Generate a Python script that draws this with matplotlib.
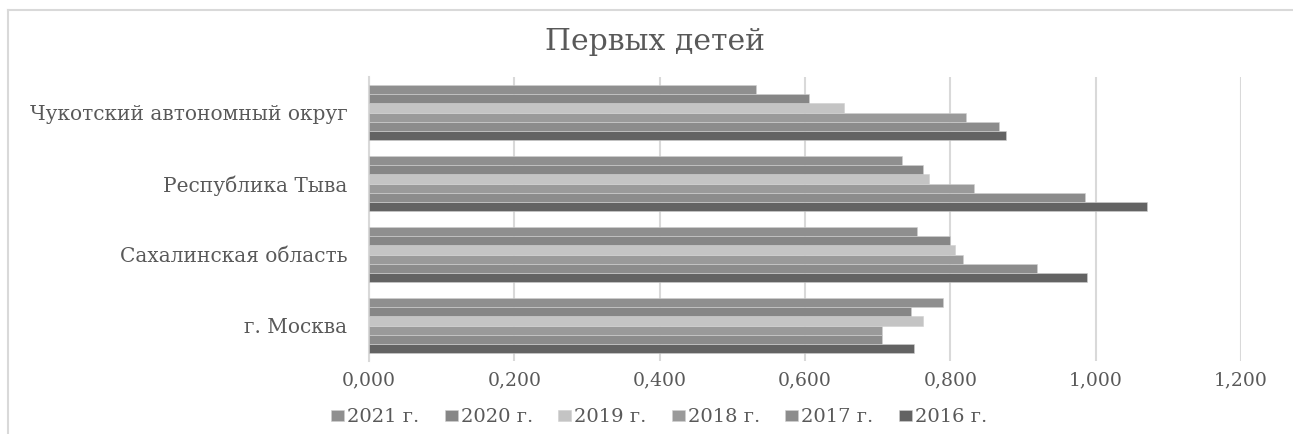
import matplotlib
matplotlib.use("Agg")
import matplotlib.pyplot as plt
from matplotlib.lines import Line2D
import numpy as np

categories = ["г. Москва", "Сахалинская область", "Республика Тыва", "Чукотский автономный округ"]
years = ["2016 г.", "2017 г.", "2018 г.", "2019 г.", "2020 г.", "2021 г."]
v2016 = [0.750, 0.988, 1.071, 0.876]
v2017 = [0.706, 0.919, 0.985, 0.867]
v2018 = [0.706, 0.818, 0.832, 0.821]
v2019 = [0.763, 0.806, 0.771, 0.653]
v2020 = [0.746, 0.799, 0.762, 0.606]
v2021 = [0.790, 0.754, 0.734, 0.533]
series = [v2016, v2017, v2018, v2019, v2020, v2021]
colors = ["#636363", "#8c8c8c", "#9a9a9a", "#c4c4c4", "#868686", "#8f8f8f"]
xticks = [0.0, 0.2, 0.4, 0.6, 0.8, 1.0, 1.2]
xticklabels = ["0,000", "0,200", "0,400", "0,600", "0,800", "1,000", "1,200"]

plt.rcParams['font.family'] = ['DejaVu Serif', 'Liberation Serif']
W, H = 1293, 434
fig = plt.figure(figsize=(W/100, H/100), dpi=100)
ax = fig.add_axes([369/W, (H-361)/H, (1241-369)/W, (361-77)/H])

y = np.arange(len(categories))
h = 0.127
handles = []
for k, (vals, col, lab) in enumerate(zip(series, colors, years)):
    b = ax.barh(y + (k - 2.5)*h, vals, height=h, color=col, edgecolor="#d0d0d0", linewidth=0.4, label=lab, zorder=3)
    handles.append(b)

ax.set_xlim(0, 1.2)
ax.set_ylim(-0.5, len(categories)-0.5)
ax.set_xticks(xticks)
ax.set_xticklabels(xticklabels, fontsize=13.5, color="#595959")
ax.set_yticks(y)
ax.set_yticklabels(categories, fontsize=14.5, color="#595959")
ax.tick_params(axis='x', length=0, pad=7.5)
ax.tick_params(axis='y', length=0, pad=15.5)
ax.grid(axis='x', color="#d9d9d9", linewidth=1.5, zorder=0)
for s in ["top", "right", "bottom"]:
    ax.spines[s].set_visible(False)
ax.spines["left"].set_color("#d9d9d9")
ax.spines["left"].set_linewidth(1.5)

fig.text(655/W, 1-49.5/H, "Первых детей", ha="center", va="baseline", fontsize=21.5, color="#595959")

leg = fig.legend(handles[::-1], years[::-1], loc="center", bbox_to_anchor=(659/W, 1-417/H), ncol=6,
                 frameon=False, fontsize=14, handlelength=0.67, handleheight=0.5, handletextpad=0.15,
                 columnspacing=1.3, labelcolor="#595959")

fig.add_artist(Line2D([8/W, 1], [1-10/H, 1-10/H], color="#d9d9d9", linewidth=1.5, transform=fig.transFigure))
fig.add_artist(Line2D([8/W, 8/W], [0, 1-10/H], color="#d9d9d9", linewidth=1.5, transform=fig.transFigure))

fig.savefig("out.png", dpi=100, facecolor="white")
